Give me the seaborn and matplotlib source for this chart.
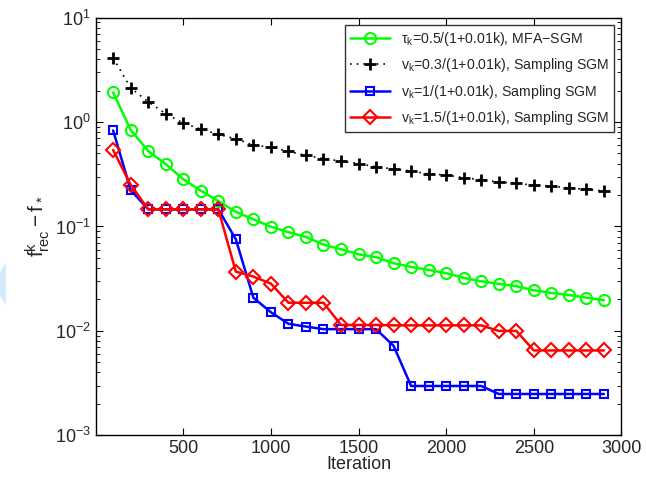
import numpy as np
import pandas as pd
import matplotlib
matplotlib.use('Agg')
import matplotlib.pyplot as plt
from matplotlib.patches import Polygon
import seaborn as sns

# iterations (every 100)
iters = list(range(100, 3000, 100))

# tau_k = 0.5/(1+0.01k), MFA-SGM
mfa_sgm = [1.92, 0.84, 0.527, 0.396, 0.283, 0.22, 0.175, 0.138, 0.117, 0.0995,
           0.088, 0.0794, 0.067, 0.0605, 0.0542, 0.0508, 0.0445, 0.041, 0.0384,
           0.0357, 0.0322, 0.0299, 0.0282, 0.0268, 0.0245, 0.0231, 0.0221,
           0.0208, 0.0197]

# v_k = 0.3/(1+0.01k), Sampling SGM
samp_03 = [4.11, 2.12, 1.56, 1.20, 0.976, 0.855, 0.761, 0.691, 0.601, 0.575,
           0.523, 0.479, 0.445, 0.423, 0.400, 0.373, 0.355, 0.340, 0.318,
           0.311, 0.293, 0.280, 0.266, 0.259, 0.248, 0.244, 0.233, 0.227, 0.218]

# v_k = 1/(1+0.01k), Sampling SGM
samp_1 = [0.83, 0.223, 0.146, 0.146, 0.146, 0.146, 0.146, 0.0754, 0.0208,
          0.0151, 0.0117, 0.0110, 0.0104, 0.0104, 0.0104, 0.0104, 0.0072,
          0.00297, 0.00297, 0.00297, 0.00297, 0.00297, 0.00249, 0.00249,
          0.00249, 0.00249, 0.00249, 0.00249, 0.00249]

# v_k = 1.5/(1+0.01k), Sampling SGM
samp_15 = [0.539, 0.251, 0.146, 0.146, 0.146, 0.146, 0.146, 0.037, 0.0331,
           0.0284, 0.0186, 0.0186, 0.0186, 0.0114, 0.0114, 0.0114, 0.0113,
           0.0113, 0.0113, 0.0113, 0.0113, 0.0113, 0.0100, 0.0100, 0.0065,
           0.0065, 0.0065, 0.0065, 0.0065]

labels = ['τ$_\\mathregular{k}$=0.5/(1+0.01k), MFA\u2212SGM',
          'v$_\\mathregular{k}$=0.3/(1+0.01k), Sampling SGM',
          'v$_\\mathregular{k}$=1/(1+0.01k), Sampling SGM',
          'v$_\\mathregular{k}$=1.5/(1+0.01k), Sampling SGM']

sns.set_style('ticks')
plt.rcParams['font.family'] = ['Liberation Sans', 'DejaVu Sans']
plt.rcParams['mathtext.fontset'] = 'custom'
plt.rcParams['mathtext.rm'] = 'Liberation Sans'
plt.rcParams['mathtext.it'] = 'Liberation Sans'

fig = plt.figure(figsize=(6.46, 4.87), dpi=100)
ax = fig.add_axes([0.148, 0.106, 0.814, 0.858])

sns.lineplot(x=iters, y=mfa_sgm, ax=ax, color='#00ff00', linewidth=1.8,
             marker='o', markersize=8, markerfacecolor='none',
             markeredgecolor='#00ff00', markeredgewidth=1.5, label=labels[0])
sns.lineplot(x=iters, y=samp_03, ax=ax, color='black', linewidth=1.2,
             linestyle=(0, (1, 3)), marker='+', markersize=8, markeredgewidth=2,
             markeredgecolor='black', label=labels[1])
sns.lineplot(x=iters, y=samp_1, ax=ax, color='#0000ff', linewidth=1.8,
             marker='s', markersize=6, markerfacecolor='none',
             markeredgecolor='#0000ff', markeredgewidth=1.5, label=labels[2])
sns.lineplot(x=iters, y=samp_15, ax=ax, color='#ff0000', linewidth=1.8,
             marker='D', markersize=7, markerfacecolor='none',
             markeredgecolor='#ff0000', markeredgewidth=1.5, label=labels[3])

ax.set_yscale('log')
ax.set_ylim(1e-3, 10)
ax.set_xlim(0, 3000)
ax.set_xticks([500, 1000, 1500, 2000, 2500, 3000])
ax.tick_params(which='both', direction='in', top=True, right=True,
               labelsize=13, color='black')
ax.tick_params(which='major', length=5)
ax.tick_params(which='minor', length=3)
ax.xaxis.set_minor_locator(matplotlib.ticker.NullLocator())
for s in ax.spines.values():
    s.set_linewidth(1.0)
    s.set_color('black')

ax.set_xlabel('Iteration', fontsize=13, labelpad=-1)
ax.set_ylabel(r'$\mathregular{f^k_{rec} - f_*}$', fontsize=15, labelpad=2)

leg = ax.legend(loc='upper right', fontsize=10.2, frameon=True, fancybox=False,
                borderaxespad=0.5, handlelength=2.8, labelspacing=0.6,
                borderpad=0.35)
leg.get_frame().set_edgecolor('black')
leg.get_frame().set_linewidth(1.0)

# faint light blue shape at the left edge of the original picture
W, H = 646, 487
pts = [(0, 273), (6, 262), (6, 305), (0, 296)]
fig.patches.append(Polygon([(x / W, 1 - y / H) for x, y in pts], closed=True,
                           transform=fig.transFigure, facecolor='#d4ecfa',
                           edgecolor='none'))

fig.savefig('out.png', dpi=100)
